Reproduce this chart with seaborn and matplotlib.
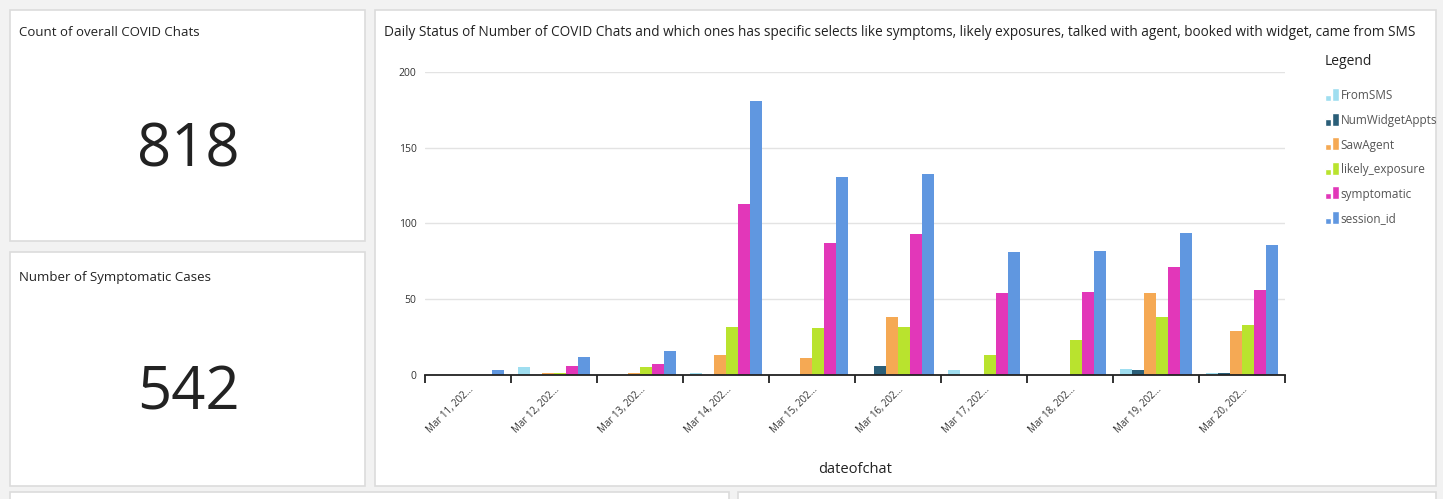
import pandas as pd
import matplotlib.pyplot as plt
import seaborn as sns
from matplotlib.patches import Rectangle
from matplotlib.legend_handler import HandlerBase

dates = ["Mar 11, 202…", "Mar 12, 202…", "Mar 13, 202…", "Mar 14, 202…", "Mar 15, 202…",
         "Mar 16, 202…", "Mar 17, 202…", "Mar 18, 202…", "Mar 19, 202…", "Mar 20, 202…"]
series = ["FromSMS", "NumWidgetAppts", "SawAgent", "likely_exposure", "symptomatic", "session_id"]
from_sms = [0, 5, 0, 1, 0, 0, 3, 0, 4, 1]
num_widget_appts = [0, 0, 0, 0, 0, 6, 0, 0, 3, 1]
saw_agent = [0, 1, 1, 13, 11, 38, 0, 0, 54, 29]
likely_exposure = [0, 1, 5, 32, 31, 32, 13, 23, 38, 33]
symptomatic = [0, 6, 7, 113, 87, 93, 54, 55, 71, 56]
session_id = [3, 12, 16, 181, 131, 133, 81, 82, 94, 86]
colors = ["#9fdef0", "#2a5e78", "#f5a954", "#b9e32e", "#e237b9", "#6097e0"]

kpi_titles = ["Count of overall COVID Chats", "Number of Symptomatic Cases"]
kpi_values = ["818", "542"]

chart_title = ("Daily Status of Number of COVID Chats and which ones has specific selects like "
               "symptoms, likely exposures, talked with agent, booked with widget, came from SMS")

rows = []
for name, vals in zip(series, [from_sms, num_widget_appts, saw_agent, likely_exposure, symptomatic, session_id]):
    for d, v in zip(dates, vals):
        rows.append({"dateofchat": d, "series": name, "value": v})
df = pd.DataFrame(rows)

sns.set_style("white")
plt.rcParams['font.family'] = ['Open Sans', 'DejaVu Sans']

W, H = 1443, 499
fig = plt.figure(figsize=(W / 100, H / 100), dpi=100)
fig.patch.set_facecolor("#f2f2f2")


def px_rect(x0, y0, x1, y1):
    return [x0 / W, 1 - y1 / H, (x1 - x0) / W, (y1 - y0) / H]


# panels
for (x0, y0, x1, y1) in [(10, 10, 365, 241), (10, 252, 365, 486), (375, 10, 1436, 486),
                         (10, 492, 729, 520), (738, 492, 1436, 520)]:
    l, b, w, h = px_rect(x0, y0, x1, y1)
    fig.patches.append(Rectangle((l, b), w, h, transform=fig.transFigure, facecolor="white",
                                 edgecolor="#dcdcdc", linewidth=1.2, zorder=-5))

# KPI text
for (ty, ny), t, v in zip([(32, 150), (277, 394)], kpi_titles, kpi_values):
    fig.text(19 / W, 1 - ty / H, t, fontsize=9.5, color="#222222", va="center", ha="left")
    fig.text(188 / W, 1 - ny / H, v, fontsize=43, color="#222222", va="center", ha="center")

fig.text(384 / W, 1 - 32 / H, chart_title, fontsize=9.8, color="#222222", va="center", ha="left")

ax = fig.add_axes(px_rect(425, 72, 1285, 375))
ax.set_zorder(1)
sns.barplot(data=df, x="dateofchat", y="value", hue="series", hue_order=series,
            palette=colors, width=0.84, ax=ax, legend=False, saturation=1,
            edgecolor="none", linewidth=0)
ax.set_ylim(0, 200)
ax.set_xlim(-0.5, len(dates) - 0.5)
ax.set_yticks([0, 50, 100, 150, 200])
ax.yaxis.grid(True, color="#e3e3e3", linewidth=1)
ax.set_axisbelow(True)
for s in ["top", "right", "left"]:
    ax.spines[s].set_visible(False)
ax.spines["bottom"].set_color("#222222")
ax.spines["bottom"].set_linewidth(1.3)
ax.tick_params(axis="y", length=0, pad=6, labelsize=7.5, labelcolor="#333333")

# boundary ticks between dates, labels at the group centres
ax.set_xticks([i - 0.5 for i in range(len(dates) + 1)])
ax.set_xticklabels([])
ax.tick_params(axis="x", which="major", bottom=True, length=6, width=1.3, color="#222222")
ax.set_xticks(range(len(dates)), minor=True)
ax.set_xticklabels(dates, minor=True, rotation=45, ha="right", rotation_mode="anchor",
                   fontsize=7, color="#333333")
ax.tick_params(axis="x", which="minor", bottom=True, length=0, pad=7)
ax.set_xlabel("dateofchat", fontsize=10.5, color="#222222", labelpad=19)
ax.set_ylabel("")


class TwoBarHandler(HandlerBase):
    def create_artists(self, legend, orig_handle, xdescent, ydescent, width, height, fontsize, trans):
        c = orig_handle.get_facecolor()
        small = Rectangle((-xdescent, -ydescent), width * 0.42, height * 0.55,
                          facecolor=c, transform=trans)
        tall = Rectangle((-xdescent + width * 0.55, -ydescent), width * 0.45, height * 1.15,
                         facecolor=c, transform=trans)
        return [small, tall]


handles = [Rectangle((0, 0), 1, 1, facecolor=c) for c in colors]
leg = fig.legend(handles, series, handler_map={Rectangle: TwoBarHandler()},
                 loc="upper left", bbox_to_anchor=(1314 / W, 1 - 43 / H), frameon=False,
                 title="Legend", alignment="left", fontsize=8.5, title_fontsize=10,
                 handlelength=1.2, handleheight=1.1, handletextpad=0.15, labelspacing=0.98)
for t in leg.get_texts():
    t.set_color("#555555")
leg.get_title().set_color("#222222")
leg._legend_box.sep = 15

fig.savefig("out.png", dpi=100, facecolor=fig.get_facecolor())
